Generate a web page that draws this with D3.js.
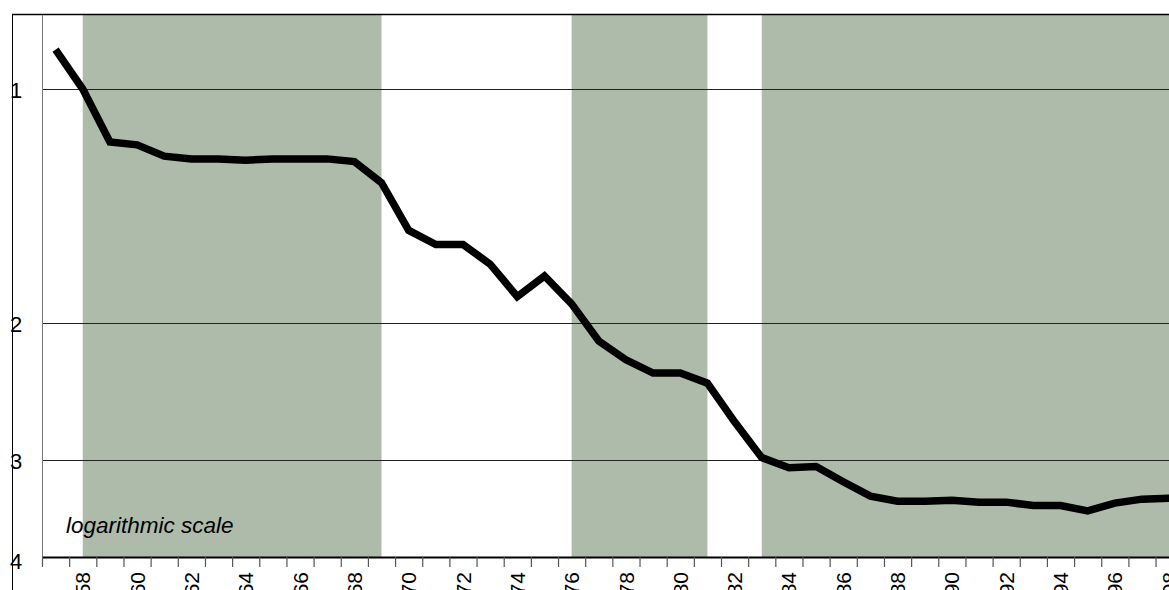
<!DOCTYPE html>
<html>
<head>
<meta charset="utf-8">
<script src="https://cdn.jsdelivr.net/npm/d3@7"></script>
<style>
  html, body { margin: 0; padding: 0; background: #fff; overflow: hidden; }
  svg { display: block; font-family: Arial, "Liberation Sans", Helvetica, sans-serif; }
</style>
</head>
<body>
<div id="chart"></div>
<script>
// yearly series on an inverted log scale, shaded periods behind the line

const years = [1957, 1958, 1959, 1960, 1961, 1962, 1963, 1964, 1965, 1966,
               1967, 1968, 1969, 1970, 1971, 1972, 1973, 1974, 1975, 1976,
               1977, 1978, 1979, 1980, 1981, 1982, 1983, 1984, 1985, 1986,
               1987, 1988, 1989, 1990, 1991, 1992, 1993, 1994, 1995, 1996,
               1997, 1998];

const values = [0.89, 1.00, 1.17, 1.18, 1.22, 1.23, 1.23, 1.235, 1.23, 1.23,
                1.23, 1.24, 1.32, 1.52, 1.585, 1.585, 1.68, 1.85, 1.74, 1.89,
                2.11, 2.23, 2.32, 2.32, 2.39, 2.68, 2.98, 3.07, 3.06, 3.20,
                3.34, 3.39, 3.39, 3.38, 3.40, 3.40, 3.435, 3.435, 3.49, 3.41,
                3.37, 3.36];

// shaded periods, from the middle of the start year to the middle of the end year
const periodStarts = [1958, 1976, 1983];
const periodEnds = [1969, 1981, 2000];

const yTicks = [1, 2, 3, 4];
const xLabelYears = [1958, 1960, 1962, 1964, 1966, 1968, 1970, 1972, 1974, 1976,
                     1978, 1980, 1982, 1984, 1986, 1988, 1990, 1992, 1994, 1996, 1998];

const W = 1169, H = 590;
const plotLeft = 42, plotTop = 15;
const bandW = 27.16;

const svg = d3.select('#chart')
    .append('svg')
    .attr('width', W)
    .attr('height', H);

// scales: x at band edges (year -> left edge of the year's band), y log inverted
const x = d3.scaleLinear()
    .domain([1957, 2000])
    .range([plotLeft, plotLeft + 43 * bandW]);
const y = d3.scaleLog()
    .domain([1, 4])
    .range([89, 557]);
const plotBottom = y(4);

// shaded periods
svg.selectAll('.period')
    .data(periodStarts.map((s, i) => [s, periodEnds[i]]))
    .enter()
    .append('rect')
    .attr('class', 'period')
    .attr('x', d => x(d[0] + 0.5))
    .attr('y', plotTop)
    .attr('width', d => x(d[1] + 0.5) - x(d[0] + 0.5))
    .attr('height', plotBottom - plotTop)
    .attr('fill', '#aebbaa');

// gridlines
svg.selectAll('.grid')
    .data(yTicks.filter(v => v < 4))
    .enter()
    .append('line')
    .attr('class', 'grid')
    .attr('x1', plotLeft)
    .attr('x2', W)
    .attr('y1', d => Math.round(y(d)) + 0.5)
    .attr('y2', d => Math.round(y(d)) + 0.5)
    .attr('stroke', '#222')
    .attr('stroke-width', 1);

// outer frame: top and left
svg.append('line')
    .attr('x1', 12).attr('x2', W)
    .attr('y1', 14.5).attr('y2', 14.5)
    .attr('stroke', '#000').attr('stroke-width', 1.6);
svg.append('line')
    .attr('x1', 12.5).attr('x2', 12.5)
    .attr('y1', 14).attr('y2', H)
    .attr('stroke', '#000').attr('stroke-width', 1);

// inner left axis line
svg.append('line')
    .attr('x1', plotLeft + 0.5).attr('x2', plotLeft + 0.5)
    .attr('y1', plotTop).attr('y2', plotBottom)
    .attr('stroke', '#777').attr('stroke-width', 1);

// y labels
svg.selectAll('.ylab')
    .data(yTicks)
    .enter()
    .append('text')
    .attr('class', 'ylab')
    .attr('x', 10)
    .attr('y', d => y(d) + (d === 4 ? 4 : 1))
    .attr('dy', '0.35em')
    .attr('font-size', 22)
    .attr('fill', '#000')
    .text(d => d);

// bottom axis with ticks at the year boundaries
const xAxis = svg.append('g')
    .attr('transform', `translate(0,${plotBottom})`)
    .call(d3.axisBottom(x)
        .tickValues(d3.range(1957, 2001))
        .tickSize(10)
        .tickSizeOuter(0)
        .tickFormat(''));
xAxis.select('.domain')
    .attr('stroke', '#000')
    .attr('stroke-width', 2.2);
xAxis.selectAll('.tick line')
    .attr('stroke', '#555')
    .attr('stroke-width', 1.2);

// year labels, rotated, centred in the bands (cut at the bottom edge as in the original)
svg.selectAll('.xlab')
    .data(xLabelYears)
    .enter()
    .append('text')
    .attr('class', 'xlab')
    .attr('transform', d => `translate(${x(d + 0.5)},${plotBottom + 15}) rotate(-90)`)
    .attr('text-anchor', 'end')
    .attr('dy', '0.36em')
    .attr('font-size', 21)
    .attr('fill', '#000')
    .text(d => String(d).slice(2));

// note
svg.append('text')
    .attr('x', 66)
    .attr('y', 533)
    .attr('font-size', 22.5)
    .attr('font-style', 'italic')
    .attr('fill', '#000')
    .text('logarithmic scale');

// the series line
const line = d3.line()
    .x((d, i) => x(years[i] + 0.5))
    .y(d => y(d));
svg.append('path')
    .datum(values)
    .attr('d', line)
    .attr('fill', 'none')
    .attr('stroke', '#000')
    .attr('stroke-width', 7.5)
    .attr('stroke-linejoin', 'miter');
</script>
</body>
</html>
